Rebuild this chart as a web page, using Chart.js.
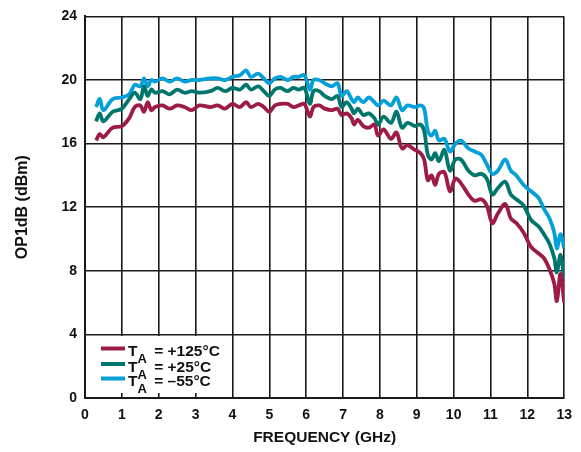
<!DOCTYPE html>
<html>
<head>
<meta charset="utf-8">
<script src="https://cdn.jsdelivr.net/npm/chart.js@4/dist/chart.umd.min.js"></script>
<style>
  html, body { margin: 0; padding: 0; background: #fff; }
  #wrap { width: 581px; height: 452px; position: relative; }
</style>
</head>
<body>
<div id="wrap"><canvas id="op1db"></canvas></div>
<script>
// frequency points (GHz)
var freq = [0.3,0.4,0.5,0.75,1.0,1.2,1.35,1.5,1.6,1.7,1.8,1.9,2.1,2.3,2.5,2.7,2.9,3.1,3.4,3.6,3.8,4.0,4.2,4.37,4.5,4.7,4.85,5.0,5.15,5.3,5.5,5.65,5.8,5.95,6.1,6.2,6.35,6.5,6.7,6.85,6.96,7.1,7.23,7.3,7.4,7.55,7.7,7.85,7.95,8.1,8.3,8.45,8.6,8.75,8.95,9.1,9.2,9.3,9.4,9.5,9.6,9.75,9.9,10.05,10.2,10.4,10.57,10.75,10.9,11.05,11.2,11.4,11.55,11.7,11.9,12.1,12.3,12.45,12.6,12.73,12.8,12.9,13.0];

// OP1dB in dBm for each temperature
var op1dbHot = [16.2,16.6,16.4,17.0,17.1,17.6,18.3,18.4,18.0,18.6,18.1,18.3,18.4,18.2,18.4,18.3,18.1,18.4,18.3,18.4,18.2,18.5,18.3,18.6,18.3,18.5,18.3,18.0,18.4,18.5,18.5,18.3,18.4,18.5,17.7,18.3,18.4,18.2,18.1,18.2,17.8,17.9,17.6,17.2,17.5,17.1,17.0,17.2,16.5,16.9,16.3,16.7,15.7,15.9,15.6,15.4,15.0,13.7,14.0,13.4,14.1,14.2,13.0,13.8,13.5,12.8,12.4,12.5,12.1,11.0,11.6,12.2,11.3,11.0,10.4,9.5,9.1,8.8,8.1,7.2,6.1,7.8,6.0];
var op1dbRoom = [17.4,17.9,17.4,18.0,18.2,18.8,19.2,18.8,19.6,19.0,19.4,19.2,19.3,19.1,19.4,19.2,19.3,19.2,19.3,19.5,19.3,19.5,19.4,19.7,19.4,19.6,19.3,19.0,19.4,19.5,19.3,19.5,19.4,19.5,18.5,19.3,19.3,19.0,18.8,19.0,18.3,18.6,18.2,17.9,18.2,17.8,17.9,17.6,17.2,17.7,17.3,18.0,17.0,17.3,17.1,17.2,16.8,15.3,15.0,15.4,14.9,15.6,14.3,15.0,15.0,14.3,14.0,14.1,13.8,12.8,13.2,13.6,12.8,12.5,12.1,11.2,10.8,10.3,9.7,8.8,7.9,9.0,7.5];
var op1dbCold = [18.3,18.8,18.1,18.8,18.9,19.1,19.7,19.6,20.1,19.6,20.0,19.9,20.1,19.9,20.1,19.9,20.0,20.0,20.1,20.1,20.0,20.2,20.3,20.6,20.2,20.4,20.1,19.8,20.1,20.2,20.0,20.2,20.2,20.3,19.4,20.0,20.0,19.8,19.6,19.8,19.0,19.3,18.8,18.6,18.9,18.6,18.9,18.6,18.4,18.7,18.4,18.9,18.1,18.4,18.3,18.4,18.2,16.8,16.5,16.8,16.2,16.3,15.5,16.0,16.2,15.7,15.5,15.3,14.7,14.1,14.3,15.0,14.3,14.0,13.4,13.0,12.6,11.9,11.3,10.4,9.4,10.3,9.4];

var seriesNames = ["+125°C", "+25°C", "\u201355°C"];
var seriesColors = ["#9c1c47", "#00766d", "#06a0d8"];

var FONT = "Arial, 'Liberation Sans', Helvetica, sans-serif";

function toPoints(ys){
    return freq.map(function(f, i){ return {x: f, y: ys[i]}; });
}

// legend with subscripted T_A, drawn over a white box in the lower left corner
var taLegend = {
    id: "taLegend",
    afterDraw: function(chart){
        var ctx = chart.ctx;
        var area = chart.chartArea;
        var left = area.left;
        var bottom = area.bottom;
        ctx.save();
        ctx.fillStyle = "#fff";
        ctx.fillRect(left + 1.5, bottom - 62, 140, 57);
        var rows = [bottom - 42, bottom - 26.5, bottom - 12];
        for (var i = 0; i < 3; i++){
            var base = rows[i];
            ctx.strokeStyle = seriesColors[i];
            ctx.lineWidth = 4;
            ctx.beginPath();
            ctx.moveTo(left + 16, base - 7.5);
            ctx.lineTo(left + 40, base - 7.5);
            ctx.stroke();

            ctx.fillStyle = "#111";
            ctx.textBaseline = "alphabetic";
            ctx.textAlign = "left";
            var x = left + 43;
            ctx.font = "bold 15.5px " + FONT;
            ctx.fillText("T", x, base);
            x += ctx.measureText("T").width;
            ctx.font = "bold 13px " + FONT;
            ctx.fillText("A", x, base + 7);
            x += ctx.measureText("A").width + 3;
            ctx.font = "bold 15.5px " + FONT;
            ctx.fillText(" = " + seriesNames[i], x, base);
        }
        ctx.restore();
    }
};

var ctx = document.getElementById("op1db").getContext("2d");
var chart = new Chart(ctx, {
    type: "line",
    data: {
        datasets: [
            { label: seriesNames[0], data: toPoints(op1dbHot), borderColor: seriesColors[0] },
            { label: seriesNames[1], data: toPoints(op1dbRoom), borderColor: seriesColors[1] },
            { label: seriesNames[2], data: toPoints(op1dbCold), borderColor: seriesColors[2] }
        ]
    },
    options: {
        responsive: true,
        maintainAspectRatio: false,
        animation: false,
        layout: { padding: { top: 13, right: 14, left: 0, bottom: 0 } },
        elements: {
            point: { radius: 0 },
            line: { borderWidth: 3.8, tension: 0.35, fill: false }
        },
        plugins: {
            legend: { display: false },
            tooltip: { enabled: false }
        },
        scales: {
            x: {
                type: "linear",
                min: 0,
                max: 13,
                afterFit: function(scale){ scale.height = 54; },
                ticks: {
                    stepSize: 1,
                    padding: 9,
                    color: "#111",
                    font: { family: FONT, size: 14, weight: "bold" }
                },
                grid: { color: "#1a1a1a", lineWidth: 1.6, drawTicks: false },
                border: { color: "#1a1a1a", width: 2 },
                title: {
                    display: true,
                    text: "FREQUENCY (GHz)",
                    color: "#111",
                    font: { family: FONT, size: 15.5, weight: "bold" },
                    padding: { top: 0, bottom: 5 }
                }
            },
            y: {
                min: 0,
                max: 24,
                afterFit: function(scale){ scale.width = 85; },
                ticks: {
                    stepSize: 4,
                    padding: 8,
                    color: "#111",
                    font: { family: FONT, size: 14, weight: "bold" }
                },
                grid: { color: "#1a1a1a", lineWidth: 1.6, drawTicks: false },
                border: { color: "#1a1a1a", width: 2 },
                title: {
                    display: true,
                    text: "OP1dB (dBm)",
                    color: "#111",
                    font: { family: FONT, size: 16, weight: "bold" },
                    padding: { top: 13, bottom: 0 }
                }
            }
        }
    },
    plugins: [taLegend]
});
</script>
</body>
</html>
